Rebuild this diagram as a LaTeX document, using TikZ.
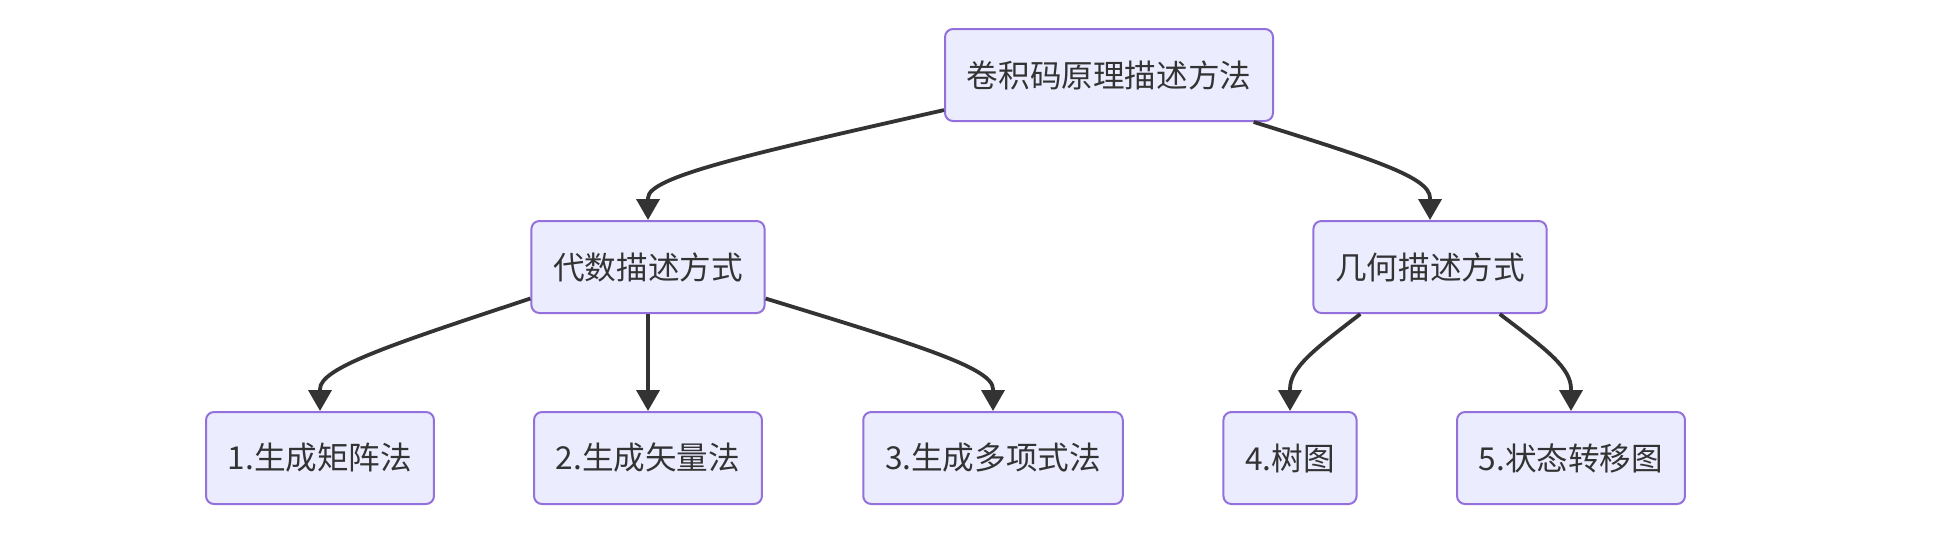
\documentclass[tikz,border=0pt]{standalone}
\usepackage{fontspec}
\setmainfont{Noto Sans CJK SC}
\usetikzlibrary{arrows.meta,calc}
\definecolor{nodefill}{HTML}{ECECFF}
\definecolor{nodeborder}{HTML}{9370DB}
\definecolor{ink}{HTML}{333333}
\begin{document}
\begin{tikzpicture}[x=0.5pt,y=-0.5pt,
  box/.style={draw=nodeborder, fill=nodefill, line width=1pt, rounded corners=4pt,
    minimum height=46pt, inner xsep=10.9pt, inner ysep=0pt, text=ink,
    font=\fontsize{15.8pt}{19pt}\selectfont},
  edge/.style={draw=ink, line width=1.9pt, -{Triangle[length=10.5pt,width=11.5pt]}},
  curvy/.style={to path={let \p1=(\tikztostart), \p2=(\tikztotarget) in
    .. controls ({\x1+0.667*(\x2-\x1)},{\y1+0.667*(\y2+21.5pt-\y1)}) and (\x2,{\y2+21.5pt})
    .. (\x2,{\y2+11pt}) -- (\tikztotarget)}}]
\useasboundingbox[fill=white] (0,0) rectangle (1946,548);
\node[box] (top) at (1109,75) {卷积码原理描述方法};
\node[box] (alg) at (648,267) {代数描述方式};
\node[box] (geo) at (1430,267) {几何描述方式};
\node[box] (n1) at (320,458) {1.生成矩阵法};
\node[box] (n2) at (648,458) {2.生成矢量法};
\node[box] (n3) at (993,458) {3.生成多项式法};
\node[box] (n4) at (1290,458) {4.树图};
\node[box] (n5) at (1571,458) {5.状态转移图};
\draw[edge] (top.192) to[curvy] (alg.north);
\draw[edge] (top.342.5) to[curvy] (geo.north);
\draw[edge] (alg.195) to[curvy] (n1.north);
\draw[edge] (alg.south) -- (n2.north);
\draw[edge] (alg.345) to[curvy] (n3.north);
\draw[edge] (geo.214) to[curvy] (n4.north);
\draw[edge] (geo.326) to[curvy] (n5.north);
\end{tikzpicture}
\end{document}
